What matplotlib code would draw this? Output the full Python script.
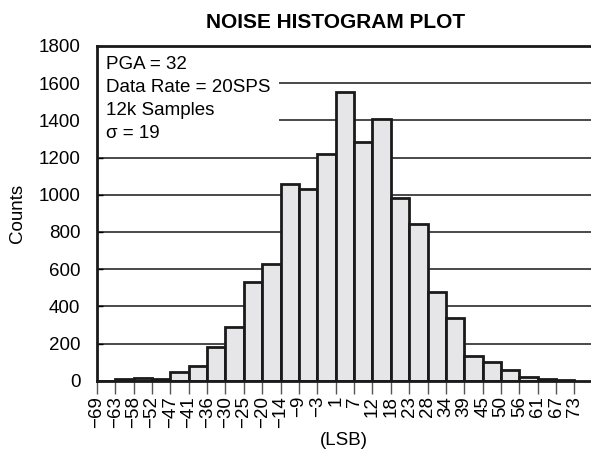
import matplotlib.pyplot as plt

plt.rcParams['font.family'] = ['Liberation Sans', 'DejaVu Sans']

bin_labels = ['−69', '−63', '−58', '−52', '−47', '−41', '−36', '−30', '−25',
              '−20', '−14', '−9', '−3', '1', '7', '12', '18', '23', '28',
              '34', '39', '45', '50', '56', '61', '67', '73']
counts = [0, 8, 15, 8, 48, 80, 180, 292, 532, 630, 1058, 1030, 1220, 1550,
          1285, 1410, 985, 845, 478, 340, 131, 102, 57, 23, 8, 5]

fig = plt.figure(figsize=(5.91, 4.55), dpi=100)
ax = fig.add_axes([0.164, 0.163, 0.836, 0.736])

edges = list(range(len(bin_labels)))
ax.bar(edges[:-1], counts, width=1, align='edge', color='#e6e6e8',
       edgecolor='#1a1a1a', linewidth=2, zorder=3)

for y in range(200, 1800, 200):
    ax.axhline(y, color='#3a3a3a', linewidth=1.3, zorder=1)

ax.set_xlim(0, 26.9)
ax.set_ylim(0, 1800)
ax.set_yticks(range(0, 1801, 200))
ax.set_xticks(edges)
ax.set_xticklabels(bin_labels, rotation=90, fontsize=13.5)
ax.tick_params(axis='y', direction='in', length=4, width=1, labelsize=13.5, pad=12)
ax.tick_params(axis='x', direction='out', length=9, width=1, color='#555555', pad=2)

for side in ['left', 'top', 'bottom']:
    ax.spines[side].set_linewidth(2)
    ax.spines[side].set_color('#1a1a1a')
    ax.spines[side].set_zorder(4)
ax.spines['right'].set_visible(False)

# white box hides the grid lines behind the notes
ax.text(0.5, 1745, 'PGA = 32\nData Rate = 20SPS\n12k Samples\nσ = 19',
        fontsize=13.5, va='top', ha='left', linespacing=1.46, zorder=2,
        bbox=dict(facecolor='white', edgecolor='none', pad=6))

ax.set_title('NOISE HISTOGRAM PLOT', fontsize=15, fontweight='bold', pad=13, x=0.483)
ax.set_ylabel('Counts', fontsize=13.5, labelpad=9)
ax.set_xlabel('(LSB)', fontsize=13.5, labelpad=3)

fig.savefig('out.png', dpi=100)
